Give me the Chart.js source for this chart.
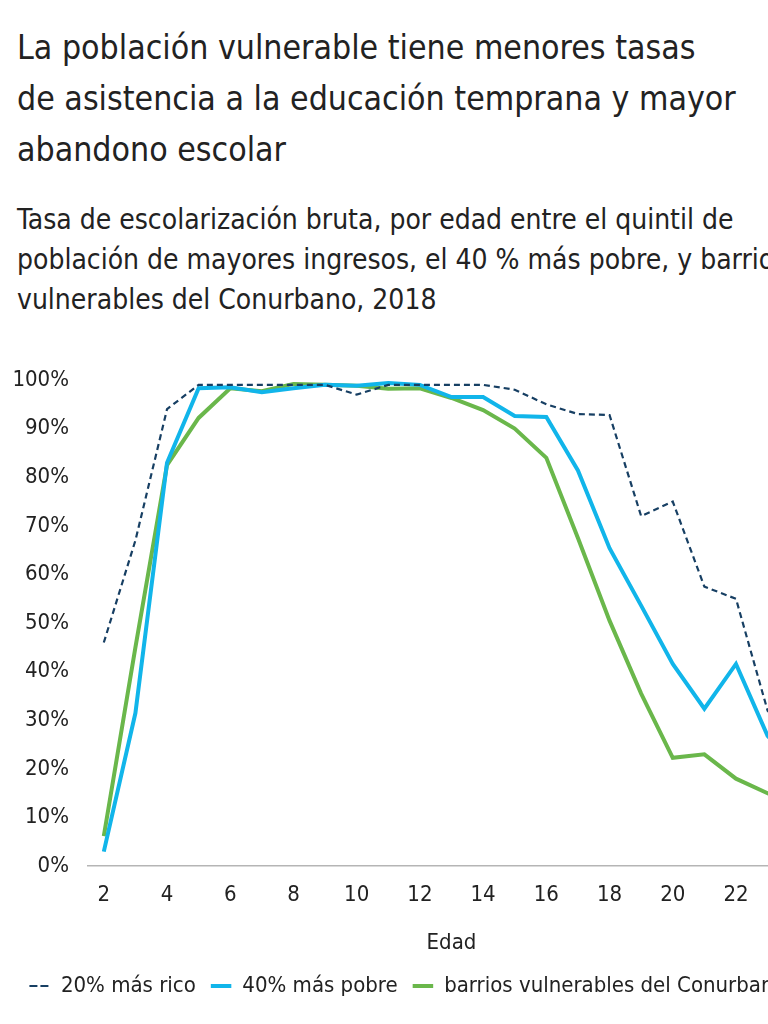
<!DOCTYPE html>
<html lang="es">
<head>
<meta charset="utf-8">
<script src="https://cdn.jsdelivr.net/npm/chart.js@4.4.1/dist/chart.umd.min.js"></script>
<style>
    html, body {
        margin: 0;
        padding: 0;
        width: 768px;
        height: 1024px;
        overflow: hidden;
        background: #fff;
    }
    body {
        position: relative;
        font-family: 'DejaVu Sans Condensed', 'DejaVu Sans', sans-serif;
        color: #222;
    }
    .title {
        position: absolute;
        left: 17px;
        top: 22px;
        font-size: 33.6px;
        line-height: 51px;
        white-space: nowrap;
    }
    .subtitle {
        position: absolute;
        left: 17px;
        top: 200px;
        font-size: 28px;
        line-height: 40px;
        white-space: nowrap;
    }
    #chartBox {
        position: absolute;
        left: 0;
        top: 350px;
        width: 860px;
        height: 674px;
    }
</style>
</head>
<body>
<div class="title">La población vulnerable tiene menores tasas<br>de asistencia a la educación temprana y mayor<br>abandono escolar</div>
<div class="subtitle">Tasa de escolarización bruta, por edad entre el quintil de<br>población de mayores ingresos, el 40 % más pobre, y barrios<br>vulnerables del Conurbano, 2018</div>
<div id="chartBox"><canvas id="edadChart"></canvas></div>

<script>
const edades = [2, 3, 4, 5, 6, 7, 8, 9, 10, 11, 12, 13, 14, 15, 16, 17, 18, 19, 20, 21, 22, 23, 24];

// 20% más rico
const masRico = [46, 67, 94, 99, 99, 99, 99, 99, 97, 99, 99, 99, 99, 98, 95, 93, 92.8, 72, 75, 57.5, 55, 32, 25];

// 40% más pobre
const masPobre = [3, 31.5, 83, 98.3, 98.5, 97.5, 98.3, 99, 98.8, 99.4, 99, 96.5, 96.5, 92.6, 92.4, 81.4, 65.4, 53.6, 41.6, 32.4, 41.6, 26.8, 20];

// barrios vulnerables del Conurbano
const barrios = [6.2, 45, 82.5, 92.2, 98.3, 97.7, 99.2, 99, 98.8, 98.2, 98.3, 96.3, 93.8, 90, 84, 67.5, 50.5, 35.5, 22.3, 23, 18, 15, 12];

const yTicks = [0, 10, 20, 30, 40, 50, 60, 70, 80, 90, 100];

const fontFamily = "'DejaVu Sans Condensed', 'DejaVu Sans', sans-serif";
Chart.defaults.font.family = fontFamily;
Chart.defaults.color = '#222';

const ctx = document.getElementById('edadChart').getContext('2d');

let edadChart = new Chart(ctx, {
    type: 'line',
    data: {
        labels: edades,
        datasets: [
            {
                label: '20% más rico',
                data: masRico,
                borderColor: '#173f63',
                backgroundColor: '#173f63',
                borderWidth: 2.2,
                borderDash: [6, 4],
                pointRadius: 0,
                tension: 0
            },
            {
                label: '40% más pobre',
                data: masPobre,
                borderColor: '#11b5ea',
                backgroundColor: '#11b5ea',
                borderWidth: 4,
                pointRadius: 0,
                tension: 0
            },
            {
                label: 'barrios vulnerables del Conurbano',
                data: barrios,
                borderColor: '#6ab74b',
                backgroundColor: '#6ab74b',
                borderWidth: 4,
                pointRadius: 0,
                tension: 0
            }
        ]
    },
    options: {
        responsive: true,
        maintainAspectRatio: false,
        animation: false,
        layout: {
            padding: { top: 30, right: 45, left: 0, bottom: 17 }
        },
        plugins: {
            legend: {
                display: true,
                position: 'bottom',
                labels: {
                    boxWidth: 20.5,
                    boxHeight: 0,
                    padding: 15,
                    color: '#222',
                    font: { size: 22 },
                    generateLabels: function (chart) {
                        const items = Chart.defaults.plugins.legend.labels.generateLabels(chart);
                        items.forEach((item, i) => {
                            const ds = chart.data.datasets[i];
                            item.fillStyle = 'transparent';
                            item.strokeStyle = ds.borderColor;
                            item.lineWidth = ds.borderDash ? 2.2 : 4;
                            // box width 20.5 is a symmetry point of [8, 3], so the gap stays open
                            item.lineDash = ds.borderDash ? [8, 3] : [];
                            item.fontColor = '#222';
                        });
                        return items;
                    }
                }
            },
            tooltip: { enabled: false }
        },
        scales: {
            x: {
                type: 'category',
                offset: true,
                grid: { display: false },
                border: { display: true, color: '#b5b5b5', width: 1.5 },
                ticks: {
                    autoSkip: false,
                    maxRotation: 0,
                    padding: 8,
                    color: '#222',
                    font: { size: 22 },
                    callback: function (value, index) {
                        const edad = edades[index];
                        return edad % 2 === 0 ? edad : '';
                    }
                },
                title: {
                    display: true,
                    text: 'Edad',
                    color: '#222',
                    font: { size: 22 },
                    padding: { top: 13, bottom: 4 }
                }
            },
            y: {
                min: 0,
                max: 100,
                grid: { display: false },
                border: { display: false },
                afterFit: function (scale) {
                    scale.width = 88;
                },
                afterBuildTicks: function (scale) {
                    scale.ticks = yTicks.map(v => ({ value: v }));
                },
                ticks: {
                    padding: 11,
                    color: '#222',
                    font: { size: 22 },
                    callback: function (value) {
                        return value + '%';
                    }
                }
            }
        }
    }
});
</script>
</body>
</html>
